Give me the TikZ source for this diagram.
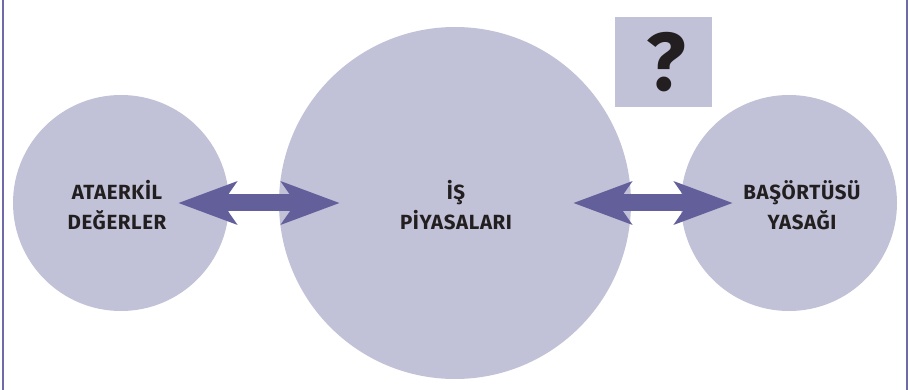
\documentclass[tikz,border=0pt]{standalone}
\usepackage{fontspec}
\setmainfont{Fira Sans}
\usepackage{tikz}
\usetikzlibrary{arrows.meta}
\definecolor{circfill}{RGB}{193,193,216}
\definecolor{arrowc}{RGB}{99,95,155}
\definecolor{framec}{RGB}{110,106,168}
\definecolor{textc}{RGB}{35,31,32}
\tikzset{
  circ/.style={shape=circle, fill=circfill, draw=none, inner sep=0pt},
  lbl/.style={align=center, inner sep=0pt, text=textc,
    font=\fontsize{20.5}{30}\selectfont\bfseries\addfontfeature{LetterSpace=3}},
  dblarrow/.style={draw=arrowc, line width=17pt,
    {Stealth[length=58pt,width=42pt,inset=14pt]}-{Stealth[length=58pt,width=42pt,inset=14pt]}},
  qbox/.style={shape=rectangle, fill=circfill, inner sep=0pt, text=textc,
    font=\fontsize{82}{82}\selectfont\bfseries}
}
\begin{document}
\begin{tikzpicture}[x=1pt,y=-1pt]
        \useasboundingbox (0,0) rectangle (910,390);
        % frame
        \draw[framec, line width=2pt] (3,0) -- (3,390);
        \draw[framec, line width=2pt] (906.5,0) -- (906.5,390);
        % circles
        \node[circ, minimum size=216pt,
          label={[lbl, xshift=-4pt, yshift=-2pt]center:ATAERKİL\\DEĞERLER}] (ataerkil) at (121,203) {};
        \node[circ, minimum size=352pt,
          label={[lbl, xshift=1pt, yshift=-2pt]center:İŞ\\PİYASALARI}] (is) at (455,203) {};
        \node[circ, minimum size=216pt,
          label={[lbl, xshift=13pt, yshift=-2pt]center:BAŞÖRTÜSÜ\\YASAĞI}] (basortu) at (789,203) {};
        % question
        \node[qbox, minimum width=97pt, minimum height=90pt] (soru) at (663.5,62) {\hspace*{6pt}?};
        % arrows
        \draw[dblarrow, shorten <=-51pt, shorten >=-61pt] (ataerkil.east) -- (is.west);
        \draw[dblarrow, shorten <=-58pt, shorten >=-52pt] (is.east) -- (basortu.west);
\end{tikzpicture}
\end{document}
